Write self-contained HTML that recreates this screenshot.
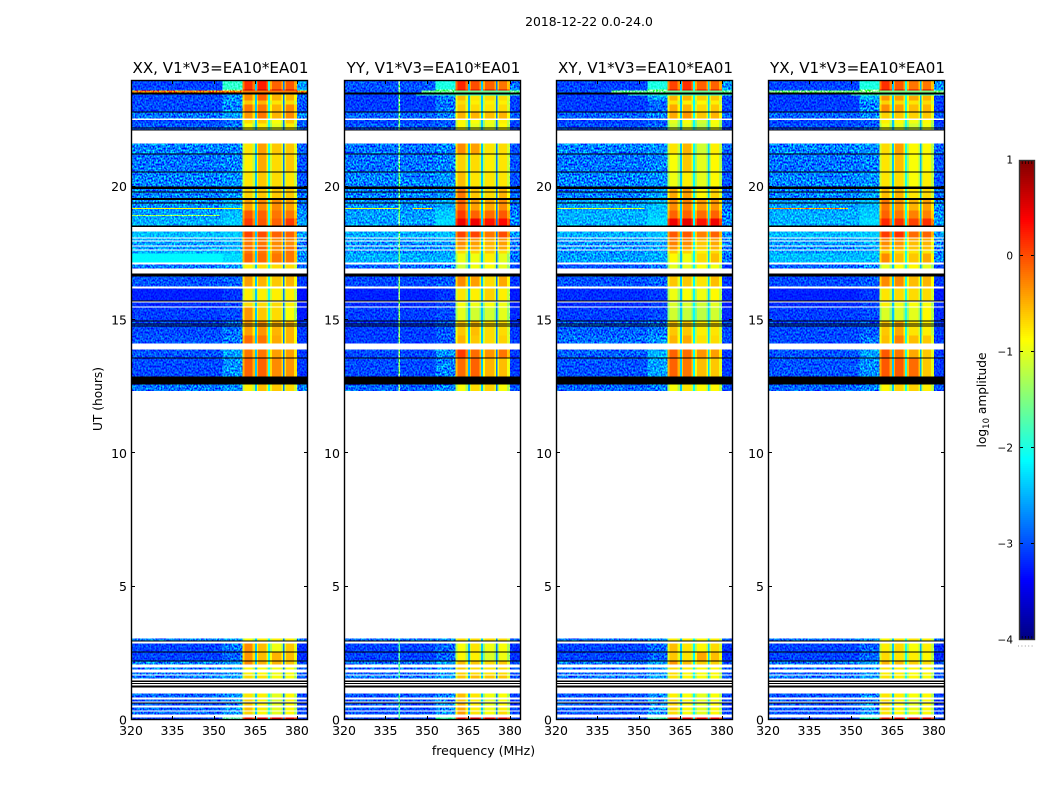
<!DOCTYPE html>
<html>
<head>
<meta charset="utf-8">
<title>2018-12-22 0.0-24.0</title>
<style>
html,body{margin:0;padding:0;background:#fff;}
body{width:1050px;height:800px;overflow:hidden;}
svg{display:block;isolation:isolate;}
text{font-family:"DejaVu Sans","Liberation Sans",sans-serif;fill:#000;}
</style>
</head>
<body>
<svg id="chart" xmlns="http://www.w3.org/2000/svg" width="1050" height="800" viewBox="0 0 1050 800">
<defs>
<filter id="speckle" x="0" y="0" width="100%" height="100%" color-interpolation-filters="sRGB">
<feTurbulence type="fractalNoise" baseFrequency="0.62 0.5" numOctaves="1" seed="7"/>
<feColorMatrix type="matrix" values="2.6 0 0 0 -0.8 2.6 0 0 0 -0.8 2.6 0 0 0 -0.8 0 0 0 0 1"/>
</filter>
</defs>
<rect x="0" y="0" width="1050" height="800" fill="#fff"/>
<text x="589" y="26" font-size="12.4" text-anchor="middle">2018-12-22 0.0-24.0</text>
<text x="483.5" y="755" font-size="12.5" text-anchor="middle">frequency (MHz)</text>
<text x="0" y="0" font-size="12.2" text-anchor="middle" transform="translate(102,399) rotate(-90)">UT (hours)</text>
<text x="0" y="0" font-size="12.2" text-anchor="middle" transform="translate(986,400) rotate(-90)">log<tspan font-size="8.5" dy="3">10</tspan><tspan dy="-3"> amplitude</tspan></text>
</svg>
<script>
// ---------- shared axes ----------
const panelTitles = ["XX, V1*V3=EA10*EA01", "YY, V1*V3=EA10*EA01", "XY, V1*V3=EA10*EA01", "YX, V1*V3=EA10*EA01"];
const freqTicks = [320, 335, 350, 365, 380];
const utTicks = [0, 5, 10, 15, 20];
const colorbarTicks = [1, 0, -1, -2, -3, -4];

// Frequency channel groups (MHz) and the entry of a row each group reads.
// Row entries: 0 low band, 1 rising band, 2-5 subbands, 6 high band, 7-9 subband gaps.
const freqEdges = [320, 353, 360.3, 361, 364, 364.8, 365.5, 366, 369, 369.6, 370.3, 371, 374.4, 374.9, 375.5, 376, 379, 380, 384];
const channelEntry = [0, 1, 2, 2, 2, 7, 3, 3, 3, 8, 4, 4, 4, 9, 5, 5, 5, 6];
const channelDrop = [0, 0, .4, 0, .4, 0, .4, 0, .4, 0, .4, 0, .4, 0, .4, 0, .4, 0];

// Observed time ranges (UT hours): start, end. White gaps are simply unobserved.
const utRanges = [
[24,23.64],[23.64,23.46],[23.46,23.23],[23.23,23.08],[23.08,22.82],[22.82,22.56],[22.5,22.37],[22.37,22.11],
[21.62,21.24],[21.24,20.57],[20.57,20],[20,19.56],[19.56,19.11],[19.11,18.81],[18.81,18.54],
[18.32,18.09],[18.06,17.98],[17.94,17.79],[17.76,17.64],[17.61,17.49],[17.49,17.16],[17.08,16.93],
[16.63,16.26],[16.18,15.69],[15.66,15.51],[15.47,14.98],[14.98,14.42],[14.42,14.12],
[13.89,13.59],[13.59,12.88],[12.58,12.34],
[3.06,2.98],[2.87,2.57],[2.57,2.23],[2.23,2.08],[1.97,1.89],[1.78,1.71],[1.67,1.56],
[.99,.84],[.77,.69],[.62,.54],[.47,.36],[.32,.21],[.09,0]];

// Flagged time ranges drawn black in every panel (UT hours).
const flaggedRanges = [
[23.53,23.46],[22.82,22.78],[22.22,22.18],[22.14,22.11],[21.24,21.21],[20.57,20.53],[20.01,19.91],[19.82,19.78],
[19.58,19.5],[19.41,19.37],[18.54,18.49],[16.74,16.63],[15.73,15.69],[14.98,14.94],[14.87,14.83],[14.79,14.76],
[13.59,13.56],[12.88,12.58],[2.98,2.94],[2.57,2.53],[2.23,2.19],[1.48,1.43],[1.39,1.35],[1.29,1.22],[.66,.62]];

// Log10 amplitude per time range: low, rising, subband 1-4, high.
const xxRows = [
[-3.05,-1.9,.15,.25,-.1,-.05,-2.6],[-2.98,-1.6,.7,.8,.6,.65,-2.3],[-3.02,-2.68,-.3,-.1,-.5,-.5,-2.9],[-3.02,-2.68,-.6,-.5,-.75,-.7,-2.98],
[-3.02,-2.75,-.2,-.2,-.5,-.3,-2.98],[-2.82,-2.6,-.35,-.2,-.5,-.3,-2.75],[-3.02,-2.9,-.7,-.6,-.9,-.6,-2.98],[-2.95,-2.82,-.9,-.8,-1,-.8,-2.9],
[-2.75,-2.75,-.75,-.4,-.6,-.6,-2.9],[-2.82,-2.75,-.8,-.45,-.7,-.6,-2.98],[-2.75,-2.68,-.75,-.6,-.7,-.75,-2.98],[-2.75,-2.68,-.65,-.6,-.6,-.6,-2.82],
[-2.68,-2.52,-.4,-.3,-.3,-.4,-2.82],[-2.6,-2.45,-.05,-.1,-.2,-.2,-2.68],[-2.52,-2.38,.1,-.05,-.1,.1,-2.6],
[-2.45,-2.38,.05,0,-.1,-.1,-2.6],[-2.52,-2.45,-.2,-.2,-.3,-.25,-2.75],[-2.6,-2.52,-.2,-.2,-.3,-.3,-2.75],[-2.6,-2.52,-.15,-.1,-.3,-.2,-2.75],
[-2.52,-2.45,-.2,-.2,-.3,-.2,-2.68],[-2.15,-2.3,-.1,-.15,-.2,-.2,-2.68],[-2.82,-2.68,-.8,-.7,-.7,-.7,-2.9],
[-2.98,-2.9,-.4,-.5,-.6,-.5,-3.1],[-3.22,-3.12,-.8,-.8,-.8,-.8,-3.3],[-3.16,-3.05,-.7,-.7,-.7,-.8,-3.25],[-3.08,-3.02,-.35,-.6,-.7,-.9,-3.25],
[-3.02,-2.85,-.4,-.35,-.5,-.5,-3.1],[-2.98,-2.8,-.15,-.2,-.45,-.5,-3.1],[-2.98,-2.6,-.2,-.2,-.4,-.4,-3.1],[-3.02,-2.68,-.1,-.1,-.3,-.35,-3.1],[-2.82,-2.68,-.8,-.55,-.6,-.7,-2.82],
[-2.75,-2.6,-.9,-.8,-.8,-.8,-2.82],[-3.05,-2.82,-.3,-.55,-.95,-.6,-3.15],[-3.05,-2.9,-.35,-.55,-.5,-.55,-3.15],[-2.75,-2.6,-.3,-.5,-.5,-.6,-2.98],
[-2.82,-2.6,-.85,-.9,-.95,-.9,-2.98],[-2.82,-2.68,-.8,-.85,-.95,-.9,-2.98],[-2.82,-2.6,-.7,-.75,-.9,-.9,-2.98],
[-2.9,-2.68,-.75,-.8,-1,-.85,-3.05],[-2.98,-2.75,-.65,-.85,-1.05,-.85,-3.12],[-2.98,-2.75,-.6,-.8,-1,-.85,-3.12],[-2.9,-2.68,-.55,-.8,-1,-.85,-3.05],[-2.9,-2.68,-.65,-.85,-1,-.85,-3.05],[-3.05,-1.7,.3,.45,.45,.4,-3.12]];

const yyRows = [
[-2.98,-2,.2,0,-.1,-.2,-2.82],[-2.98,-1.6,.6,.55,.6,.55,-2.45],[-3.08,-2.82,-.55,-.75,-.7,-.7,-3.05],[-3.08,-2.82,-.7,-.8,-.8,-.8,-3.05],
[-3.08,-2.82,-.6,-.7,-.75,-.7,-3.05],[-2.9,-2.75,-.5,-.5,-.55,-.5,-2.9],[-3.05,-2.98,-.85,-.9,-.95,-.8,-3.05],[-2.95,-2.9,-.85,-1,-1,-.85,-3.05],
[-2.82,-2.75,-.3,-.4,-.75,-.7,-2.98],[-2.82,-2.75,-.65,-.7,-.8,-.75,-2.98],[-2.75,-2.68,-.55,-.75,-.75,-.75,-2.98],[-2.75,-2.68,-.2,-.6,-.7,-.5,-2.9],
[-2.68,-2.52,-.1,-.4,-.45,-.3,-2.82],[-2.6,-2.38,.1,-.1,-.15,-.05,-2.75],[-2.6,-2.3,.45,.45,.3,.35,-2.68],
[-2.52,-2.45,.05,.05,-.2,0,-2.68],[-2.6,-2.52,-.25,-.35,-.45,-.35,-2.82],[-2.68,-2.6,-.3,-.4,-.5,-.4,-2.82],[-2.68,-2.6,-.4,-.45,-.55,-.45,-2.82],
[-2.68,-2.6,-.7,-.65,-.6,-.7,-2.82],[-2.52,-2.52,-.95,-.95,-.8,-1,-2.82],[-2.9,-2.75,-1.1,-.95,-.9,-1,-3.05],
[-3.02,-2.95,-.3,-.4,-.7,-.45,-3.1],[-3.22,-3.12,-.75,-.8,-.65,-.8,-3.25],[-3.16,-3.05,-.9,-.95,-.9,-.95,-3.25],[-3.08,-3.02,-1,-1.1,-1.1,-1,-3.18],
[-3.08,-2.95,-.6,-.55,-.7,-.7,-3.1],[-3.08,-2.95,-.5,-.6,-.7,-.65,-3.1],[-3.02,-2.68,.1,-.15,-.35,-.2,-3.1],[-3.02,-2.75,-.15,-.1,-.5,-.55,-3.1],[-2.9,-2.75,-.9,-.7,-.65,-.9,-2.98],
[-2.82,-2.68,-.7,-.7,-.7,-.7,-2.9],[-3.05,-2.9,-.9,-.75,-.95,-.9,-3.15],[-3.05,-2.9,-.85,-.8,-1.05,-.95,-3.15],[-2.82,-2.6,-.55,-.6,-.7,-.6,-2.98],
[-2.9,-2.68,-.6,-.7,-.75,-.7,-2.98],[-2.9,-2.68,-.65,-.7,-.75,-.7,-2.98],[-2.82,-2.6,-.6,-.55,-.6,-.6,-2.98],
[-2.98,-2.75,-.55,-.75,-.95,-.9,-3.05],[-2.98,-2.75,-.6,-.8,-1,-.9,-3.12],[-2.98,-2.75,-.5,-.8,-1,-.85,-3.12],[-2.98,-2.75,-.45,-.8,-.95,-.8,-3.05],[-2.98,-2.68,-.4,-.75,-.9,-.7,-3.05],[-3.05,-1.8,.3,.55,.45,.45,-3.12]];

const xyRows = [
[-3.05,-2,.05,.15,-.1,-.1,-2.68],[-2.98,-1.5,.65,.6,.5,.6,-2.38],[-3.08,-2.6,-.5,-.5,-.65,-.6,-3.02],[-3.08,-2.9,-.75,-.8,-.85,-.8,-3.05],
[-3.08,-2.9,-.45,-.5,-.7,-.6,-3.05],[-2.9,-2.75,-.45,-.35,-.6,-.5,-2.9],[-3.05,-2.98,-1,-.9,-1.1,-.9,-3.05],[-3,-2.9,-1.1,-1,-1.2,-.95,-3.05],
[-2.75,-2.68,-.75,-.5,-1.1,-.8,-2.9],[-2.82,-2.75,-.9,-.6,-1,-.85,-2.98],[-2.75,-2.68,-.95,-.8,-1,-.85,-2.98],[-2.75,-2.6,-.45,-.4,-.85,-.65,-2.9],
[-2.6,-2.45,-.3,-.25,-.4,-.35,-2.82],[-2.52,-2.38,-.1,-.1,-.15,-.1,-2.75],[-2.52,-2.3,.45,.5,.3,.45,-2.68],
[-2.52,-2.45,-.05,-.05,-.25,-.1,-2.68],[-2.6,-2.52,-.2,-.25,-.5,-.4,-2.75],[-2.68,-2.6,-.25,-.3,-.6,-.45,-2.75],[-2.68,-2.6,-.35,-.4,-.65,-.5,-2.75],
[-2.68,-2.6,-.6,-.65,-.8,-.7,-2.82],[-2.6,-2.52,-.85,-.95,-.7,-.55,-2.82],[-2.98,-2.82,-1,-1,-.9,-.95,-3.12],
[-2.98,-2.9,-.6,-.6,-.75,-.55,-3.1],[-3.16,-3.1,-.95,-.9,-.95,-.85,-3.18],[-3.16,-3.1,-1.05,-1.05,-1.1,-1,-3.25],[-3.08,-3.02,-1.1,-1.15,-1.2,-1.1,-3.18],
[-2.92,-2.82,-.6,-.6,-.8,-.75,-3.02],[-2.85,-2.68,-.5,-.45,-.75,-.7,-3.02],[-2.92,-2.52,-.1,-.15,-.35,-.4,-3.1],[-2.98,-2.6,-.1,-.2,-.55,-.6,-3.1],[-2.9,-2.75,-.9,-.75,-.85,-.85,-2.98],
[-2.82,-2.68,-.8,-.8,-.85,-.8,-2.9],[-3.05,-2.9,-.55,-.75,-.85,-.7,-3.15],[-3.05,-2.9,-.6,-.75,-.45,-.55,-3.15],[-2.82,-2.6,-.35,-.55,-.65,-.65,-2.98],
[-2.9,-2.68,-.7,-.8,-.85,-.85,-2.98],[-2.9,-2.68,-.7,-.85,-.9,-.85,-2.98],[-2.82,-2.6,-.75,-.85,-.9,-.9,-2.98],
[-2.98,-2.75,-.8,-.9,-1,-.9,-3.05],[-2.98,-2.75,-.7,-.85,-1,-.9,-3.12],[-2.98,-2.75,-.65,-.85,-1,-.85,-3.12],[-2.98,-2.75,-.65,-.85,-1,-.85,-3.05],[-2.98,-2.68,-.7,-.9,-1,-.85,-3.05],[-3.05,-1.8,.2,.4,.35,.35,-3.12]];

const yxRows = [
[-3.05,-2,.15,-.05,-.2,-.2,-2.68],[-2.98,-1.5,.75,.6,.5,.65,-2.38],[-3.08,-2.52,-.35,-.4,-.45,-.5,-3.05],[-3.08,-2.75,-.65,-.7,-.75,-.7,-3.08],
[-3.08,-2.75,-.3,-.4,-.55,-.5,-3.08],[-2.9,-2.75,-.65,-.6,-.65,-.6,-2.98],[-3.05,-2.98,-.8,-.85,-.95,-.85,-3.1],[-3,-2.9,-.95,-1,-1.1,-.95,-3.05],
[-2.75,-2.68,-.7,-.4,-.85,-.85,-2.9],[-2.82,-2.75,-.75,-.55,-.9,-.85,-2.98],[-2.75,-2.68,-.75,-.7,-.9,-.8,-2.98],[-2.75,-2.6,-.55,-.5,-.75,-.7,-2.9],
[-2.6,-2.45,-.2,-.35,-.5,-.4,-2.75],[-2.52,-2.38,-.1,-.2,-.25,-.25,-2.68],[-2.52,-2.3,.2,.15,.05,.15,-2.6],
[-2.45,-2.38,.1,.15,-.15,-.1,-2.6],[-2.6,-2.52,-.25,-.3,-.45,-.45,-2.75],[-2.6,-2.52,-.3,-.35,-.55,-.5,-2.75],[-2.68,-2.6,-.4,-.45,-.6,-.55,-2.75],
[-2.6,-2.52,-.65,-.7,-.75,-.75,-2.75],[-2.45,-2.45,-.3,-.55,-.6,-.45,-2.75],[-2.9,-2.75,-1,-.9,-.85,-1,-3.05],
[-3.02,-2.95,-.3,-.3,-.55,-.5,-3.1],[-3.22,-3.12,-.75,-.7,-.7,-.7,-3.25],[-3.16,-3.05,-.8,-.95,-.9,-.9,-3.18],[-3.08,-3.02,-1.05,-1.05,-1,-.85,-3.18],
[-3.02,-2.95,-.6,-.45,-.75,-.8,-3.1],[-3.02,-2.82,-.55,-.25,-.55,-.6,-3.1],[-2.98,-2.6,-.05,-.2,-.45,-.6,-3.1],[-2.98,-2.68,-.05,-.05,-.15,-.6,-3.1],[-2.9,-2.75,-.85,-.65,-.65,-.8,-2.98],
[-2.82,-2.68,-.85,-.75,-.75,-.8,-2.9],[-3.05,-2.9,-.8,-.7,-.9,-.8,-3.15],[-3.05,-2.9,-.7,-.75,-.8,-.85,-3.15],[-2.82,-2.6,-.5,-.55,-.65,-.7,-2.98],
[-2.9,-2.68,-.75,-.8,-.85,-.85,-2.98],[-2.9,-2.68,-.8,-.8,-.9,-.85,-2.98],[-2.82,-2.6,-.75,-.8,-.85,-.9,-2.98],
[-2.98,-2.75,-.75,-.8,-.9,-.85,-3.05],[-2.98,-2.75,-.7,-.85,-1,-.85,-3.12],[-2.98,-2.75,-.7,-.85,-1,-.85,-3.12],[-2.98,-2.75,-.7,-.85,-.95,-.85,-3.05],[-2.98,-2.68,-.75,-.85,-.95,-.85,-3.05],[-3.05,-1.9,.25,.35,.3,.35,-3.12]];

// Subband-gap levels per panel.
const xxGaps = [-2.4, -2.0, -2.8];
const yyGaps = [-2.5, -2.4, -2.8];
const xyGaps = [-2.4, -2.1, -2.3];
const yxGaps = [-2.4, -2.0, -2.5];

// Narrow interference features: start hour, end hour, start MHz, end MHz, level.
const xxLines = [[23.6,23.54,320,384,-.25],[19.2,19.16,320,360,-.9],[18.94,18.91,320,352,-1.3]];
const yyLines = [[23.6,23.54,348,384,-1.6],[23.45,23.41,346,384,-1.9],[19.2,19.16,320,340,-1],[19.2,19.16,345,352,-.7],
[24,22.11,339.7,340.2,-1.5],[21.62,18.54,339.7,340.2,-1.5],[18.32,16.93,339.7,340.2,-1.5],[16.63,14.12,339.7,340.2,-1.4],[13.89,12.34,339.7,340.2,-1.4],[3.06,1.56,339.7,340.2,-1.7],[.99,0,339.7,340.2,-1.7]];
const xyLines = [[23.6,23.54,340,384,-1.6],[23.45,23.41,346,384,-1.9],[19.2,19.16,320,352,-1.1]];
const yxLines = [[23.6,23.54,320,384,-1.5],[23.45,23.41,350,384,-1.8],[19.2,19.16,320,349,-.4]];

// ---------- scales ----------
const svg = document.getElementById('chart');
const NS = 'http://www.w3.org/2000/svg';
const plotLefts = [131, 344, 556, 768];
const plotWidth = 177;
const plotTop = 80;
const plotBottom = 720;
const FMIN = 320, FMAX = 384, UTMIN = 0, UTMAX = 24;
const panelRows = [xxRows, yyRows, xyRows, yxRows];
const panelGaps = [xxGaps, yyGaps, xyGaps, yxGaps];
const panelLines = [xxLines, yyLines, xyLines, yxLines];

function freqX(left, f) { return left + (f - FMIN) / (FMAX - FMIN) * plotWidth; }
function utY(h) { return plotBottom - (h - UTMIN) / (UTMAX - UTMIN) * (plotBottom - plotTop); }
function clamp01(v) { return Math.max(0, Math.min(1, v)); }
function jet(v) {
  const t = clamp01((v + 4) / 5);
  const r = clamp01(Math.min(4 * t - 1.5, 4.5 - 4 * t));
  const g = clamp01(Math.min(4 * t - 0.5, 3.5 - 4 * t));
  const b = clamp01(Math.min(4 * t + 0.5, 2.5 - 4 * t));
  return 'rgb(' + Math.round(r * 255) + ',' + Math.round(g * 255) + ',' + Math.round(b * 255) + ')';
}
function make(tag, attrs, parent) {
  const el = document.createElementNS(NS, tag);
  for (const k in attrs) el.setAttribute(k, attrs[k]);
  (parent || svg).appendChild(el);
  return el;
}

// ---------- panels ----------
panelTitles.forEach(function (title, p) {
  const left = plotLefts[p];
  const right = left + plotWidth;
  const rows = panelRows[p];
  const gaps = panelGaps[p];

  const group = make('g', {});
  
  

  const heat = make('g', { 'shape-rendering': 'crispEdges' }, group);
  
  

  rows.forEach(function (row, r) {
    const values = row.concat(gaps);
    const y0 = utY(utRanges[r][0]);
    const y1 = utY(utRanges[r][1]);
    channelEntry.forEach(function (entry, c) {
      const x0 = freqX(left, freqEdges[c]);
      const x1 = freqX(left, freqEdges[c + 1]);
      const cell = make('rect', { x: x0, y: y0, width: x1 - x0, height: y1 - y0, fill: jet(values[entry] - channelDrop[c]) }, heat);
      
      
    });
  });

  panelLines[p].forEach(function (ln) {
    const y0 = utY(ln[0]);
    const y1 = utY(ln[1]);
    const x0 = freqX(left, ln[2]);
    const x1 = freqX(left, ln[3]);
    const mark = make('rect', { x: x0, y: y0, width: x1 - x0, height: Math.max(1, y1 - y0), fill: jet(ln[4]) }, heat);
    
    
  });

  flaggedRanges.forEach(function (fr) {
    const y0 = utY(fr[0]);
    const y1 = utY(fr[1]);
    const flag = make('rect', { x: left, y: y0, width: plotWidth, height: Math.max(1, y1 - y0), fill: '#000' }, heat);
    
    
  });

  // Visual speckle over the out-of-band channels only.
  [[FMIN, 360.3], [380, FMAX]].forEach(function (span) {
    const x0 = freqX(left, span[0]);
    const x1 = freqX(left, span[1]);
    const tex = make('rect', { x: x0, y: plotTop, width: x1 - x0, height: plotBottom - plotTop, fill: '#888', filter: 'url(#speckle)', style: 'mix-blend-mode:overlay' }, group);
    
    
  });

  const axis = make('g', { stroke: '#000', 'stroke-width': 1, 'shape-rendering': 'crispEdges' }, group);
  
  

  freqTicks.forEach(function (f) {
    const x = Math.round(freqX(left, f)) + 0.5;
    make('line', { x1: x, y1: plotBottom, x2: x, y2: plotBottom - 4 }, axis);
    make('line', { x1: x, y1: plotTop, x2: x, y2: plotTop + 4 }, axis);
    const lab = make('text', { x: freqX(left, f), y: 735, 'font-size': 12.5, 'text-anchor': 'middle' }, group);
    lab.textContent = String(f);
    
    
  });

  utTicks.forEach(function (h) {
    const y = Math.round(utY(h)) - 0.5;
    make('line', { x1: left, y1: y, x2: left + 4, y2: y }, axis);
    make('line', { x1: right, y1: y, x2: right - 4, y2: y }, axis);
    const lab = make('text', { x: left - 4, y: utY(h) + 4.5, 'font-size': 12.5, 'text-anchor': 'end' }, group);
    lab.textContent = String(h);
    
    
  });

  const frame = make('rect', { x: left + 0.5, y: plotTop + 0.5, width: plotWidth - 1, height: plotBottom - plotTop - 1, fill: 'none', stroke: '#000', 'stroke-width': 1.4 }, group);
  
  

  const ttl = make('text', { x: left + plotWidth / 2 + 1, y: 73, 'font-size': 15.1, 'text-anchor': 'middle' }, group);
  ttl.textContent = title;
  
  
});

// ---------- colorbar ----------
const cbLeft = 1019, cbRight = 1035, cbTop = 160, cbBottom = 640;
function cbY(v) { return cbBottom - (v + 4) / 5 * (cbBottom - cbTop); }
const cbGroup = make('g', {});


for (let py = cbTop; py < cbBottom; py += 2) {
  const v = 1 - (py - cbTop + 1) / (cbBottom - cbTop) * 5;
  const seg = make('rect', { x: cbLeft, y: py, width: cbRight - cbLeft, height: 2, fill: jet(v), 'shape-rendering': 'crispEdges' }, cbGroup);
  
  
}
colorbarTicks.forEach(function (v) {
  const y = Math.round(cbY(v)) - 0.5;
  if (v !== 1 && v !== -4) {
    make('line', { x1: cbLeft, y1: y, x2: cbLeft + 4, y2: y, stroke: '#000', 'shape-rendering': 'crispEdges' }, cbGroup);
    make('line', { x1: cbRight, y1: y, x2: cbRight - 4, y2: y, stroke: '#000', 'shape-rendering': 'crispEdges' }, cbGroup);
  }
  const lab = make('text', { x: cbLeft - 6, y: cbY(v) + 3.5, 'font-size': 10.5, 'text-anchor': 'end' }, cbGroup);
  lab.textContent = String(v).replace('-', '\u2212');
  
  
});
for (let i = 1; i <= 4; i++) {
  const x = cbLeft + i * (cbRight - cbLeft) / 5;
  make('line', { x1: x, y1: cbTop, x2: x, y2: cbTop + 4, stroke: '#000', 'stroke-width': .7 }, cbGroup);
  make('line', { x1: x, y1: cbBottom, x2: x, y2: cbBottom - 4, stroke: '#000', 'stroke-width': .7 }, cbGroup);
}
const cbFrame = make('rect', { x: cbLeft + .5, y: cbTop + .5, width: cbRight - cbLeft - 1, height: cbBottom - cbTop - 1, fill: 'none', stroke: '#333', 'stroke-width': 1.4 }, cbGroup);


const cbDots = make('line', { x1: 1018, y1: 646, x2: 1035, y2: 646, stroke: '#999', 'stroke-width': 1, 'stroke-dasharray': '1 2.4' }, cbGroup);


</script>
</body>
</html>
